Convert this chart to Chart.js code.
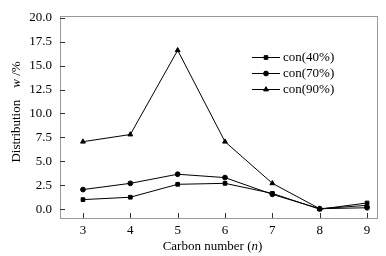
<!DOCTYPE html>
<html><head><meta charset="utf-8">
<script src="https://cdn.jsdelivr.net/npm/chart.js@4"></script>
<style>html,body{margin:0;padding:0;background:#fff}#wrap{width:386px;height:256px}</style>
</head><body><div id="wrap"><canvas id="c" width="386" height="256"></canvas></div>
<script>
const carbonNumbers = [3, 4, 5, 6, 7, 8, 9];
const con40 = [1.0, 1.25, 2.6, 2.7, 1.65, 0.0, 0.65];
const con70 = [2.05, 2.7, 3.65, 3.3, 1.55, 0.05, 0.15];
const con90 = [7.05, 7.8, 16.6, 7.05, 2.7, 0.05, 0.4];
const seriesLabels = ['con(40%)', 'con(70%)', 'con(90%)'];
const yTicks = [0, 2.5, 5, 7.5, 10, 12.5, 15, 17.5, 20];

const FONT = "'Liberation Serif'";
const toXY = arr => arr.map((v, i) => ({x: carbonNumbers[i], y: v}));
const styles = ['rect', 'circle', 'triangle'];
const radii = [2.6, 2.4, 2.8];
const datasets = [con40, con70, con90].map((d, i) => ({
  label: seriesLabels[i], data: toXY(d), borderColor: '#000', backgroundColor: '#000',
  borderWidth: 1, pointStyle: styles[i], pointRadius: radii[i], tension: 0
}));

const decor = {
  id: 'decor',
  afterDraw(chart) {
    const ctx = chart.ctx, a = chart.chartArea;
    const xs = chart.scales.x, ys = chart.scales.y;
    ctx.save();
    ctx.strokeStyle = '#9a9a9a'; ctx.lineWidth = 1;
    ctx.strokeRect(Math.round(a.left) + 0.5, Math.round(a.top) + 0.5, Math.round(a.right - a.left), Math.round(a.bottom - a.top));
    ctx.strokeStyle = '#333';
    ys.ticks.forEach(t => {
      const y = Math.round(ys.getPixelForValue(t.value)) + 0.5;
      ctx.beginPath(); ctx.moveTo(a.left, y); ctx.lineTo(a.left + 5, y); ctx.stroke();
    });
    xs.ticks.forEach(t => {
      const x = Math.round(xs.getPixelForValue(t.value)) + 0.5;
      ctx.beginPath(); ctx.moveTo(x, a.bottom); ctx.lineTo(x, a.bottom - 5); ctx.stroke();
    });
    // legend
    ctx.fillStyle = '#000'; ctx.strokeStyle = '#000';
    ctx.font = '13px ' + FONT; ctx.textBaseline = 'middle'; ctx.textAlign = 'left';
    chart.data.datasets.forEach((ds, i) => {
      const y = 57.5 + i * 16;
      ctx.beginPath(); ctx.moveTo(252, y); ctx.lineTo(280, y); ctx.stroke();
      Chart.helpers.drawPoint(ctx, {pointStyle: ds.pointStyle, radius: ds.pointRadius, borderWidth: 1, rotation: 0}, 266, y);
      ctx.fillText(ds.label, 283, y + 0.5);
    });
    // y title
    ctx.save();
    ctx.translate(17, 112); ctx.rotate(-Math.PI / 2);
    ctx.textBaseline = 'middle';
    const p1 = 'Distribution', p2 = 'w', p3 = ' /%';
    ctx.font = '13px ' + FONT; const w1 = ctx.measureText(p1).width, w3 = ctx.measureText(p3).width;
    ctx.font = 'italic 13px ' + FONT; const w2 = ctx.measureText(p2).width;
    const gap = 12, total = w1 + gap + w2 + w3;
    let x = -total / 2;
    ctx.font = '13px ' + FONT; ctx.fillText(p1, x, 0); x += w1 + gap;
    ctx.font = 'italic 13px ' + FONT; ctx.fillText(p2, x, 0); x += w2;
    ctx.font = '13px ' + FONT; ctx.fillText(p3, x, 0);
    ctx.restore();
    // x title
    ctx.textBaseline = 'middle';
    const q1 = 'Carbon number (', q2 = 'n', q3 = ')';
    ctx.font = '13px ' + FONT; const v1 = ctx.measureText(q1).width, v3 = ctx.measureText(q3).width;
    ctx.font = 'italic 13px ' + FONT; const v2 = ctx.measureText(q2).width;
    let xx = 212.5 - (v1 + v2 + v3) / 2;
    ctx.font = '13px ' + FONT; ctx.fillText(q1, xx, 247); xx += v1;
    ctx.font = 'italic 13px ' + FONT; ctx.fillText(q2, xx, 247); xx += v2;
    ctx.font = '13px ' + FONT; ctx.fillText(q3, xx, 247);
    ctx.restore();
  }
};

function build() {
  new Chart(document.getElementById('c'), {
    type: 'line',
    data: {datasets},
    options: {
      responsive: false, animation: false, devicePixelRatio: 1,
      layout: {padding: {top: 11, right: 9, left: 0, bottom: 0}},
      plugins: {legend: {display: false}, tooltip: {enabled: false}},
      scales: {
        x: {
          type: 'linear', min: 2.515, max: 9.21,
          afterBuildTicks: s => { s.ticks = carbonNumbers.map(v => ({value: v})); },
          afterFit: s => { s.height = 38; },
          grid: {display: false, drawTicks: false},
          border: {display: false},
          ticks: {color: '#000', font: {family: FONT, size: 13}, padding: 5, callback: v => String(v), maxRotation: 0}
        },
        y: {
          min: -0.92, max: 20.2,
          afterBuildTicks: s => { s.ticks = yTicks.map(v => ({value: v})); },
          afterFit: s => { s.width = 60; },
          grid: {display: false, drawTicks: false},
          border: {display: false},
          ticks: {color: '#000', font: {family: FONT, size: 13}, padding: 8, callback: v => Number(v).toFixed(1)}
        }
      }
    },
    plugins: [decor]
  });
}
Promise.all([
  document.fonts.load("13px 'Liberation Serif'"),
  document.fonts.load("italic 13px 'Liberation Serif'")
]).then(build, build);
</script>
</body></html>
